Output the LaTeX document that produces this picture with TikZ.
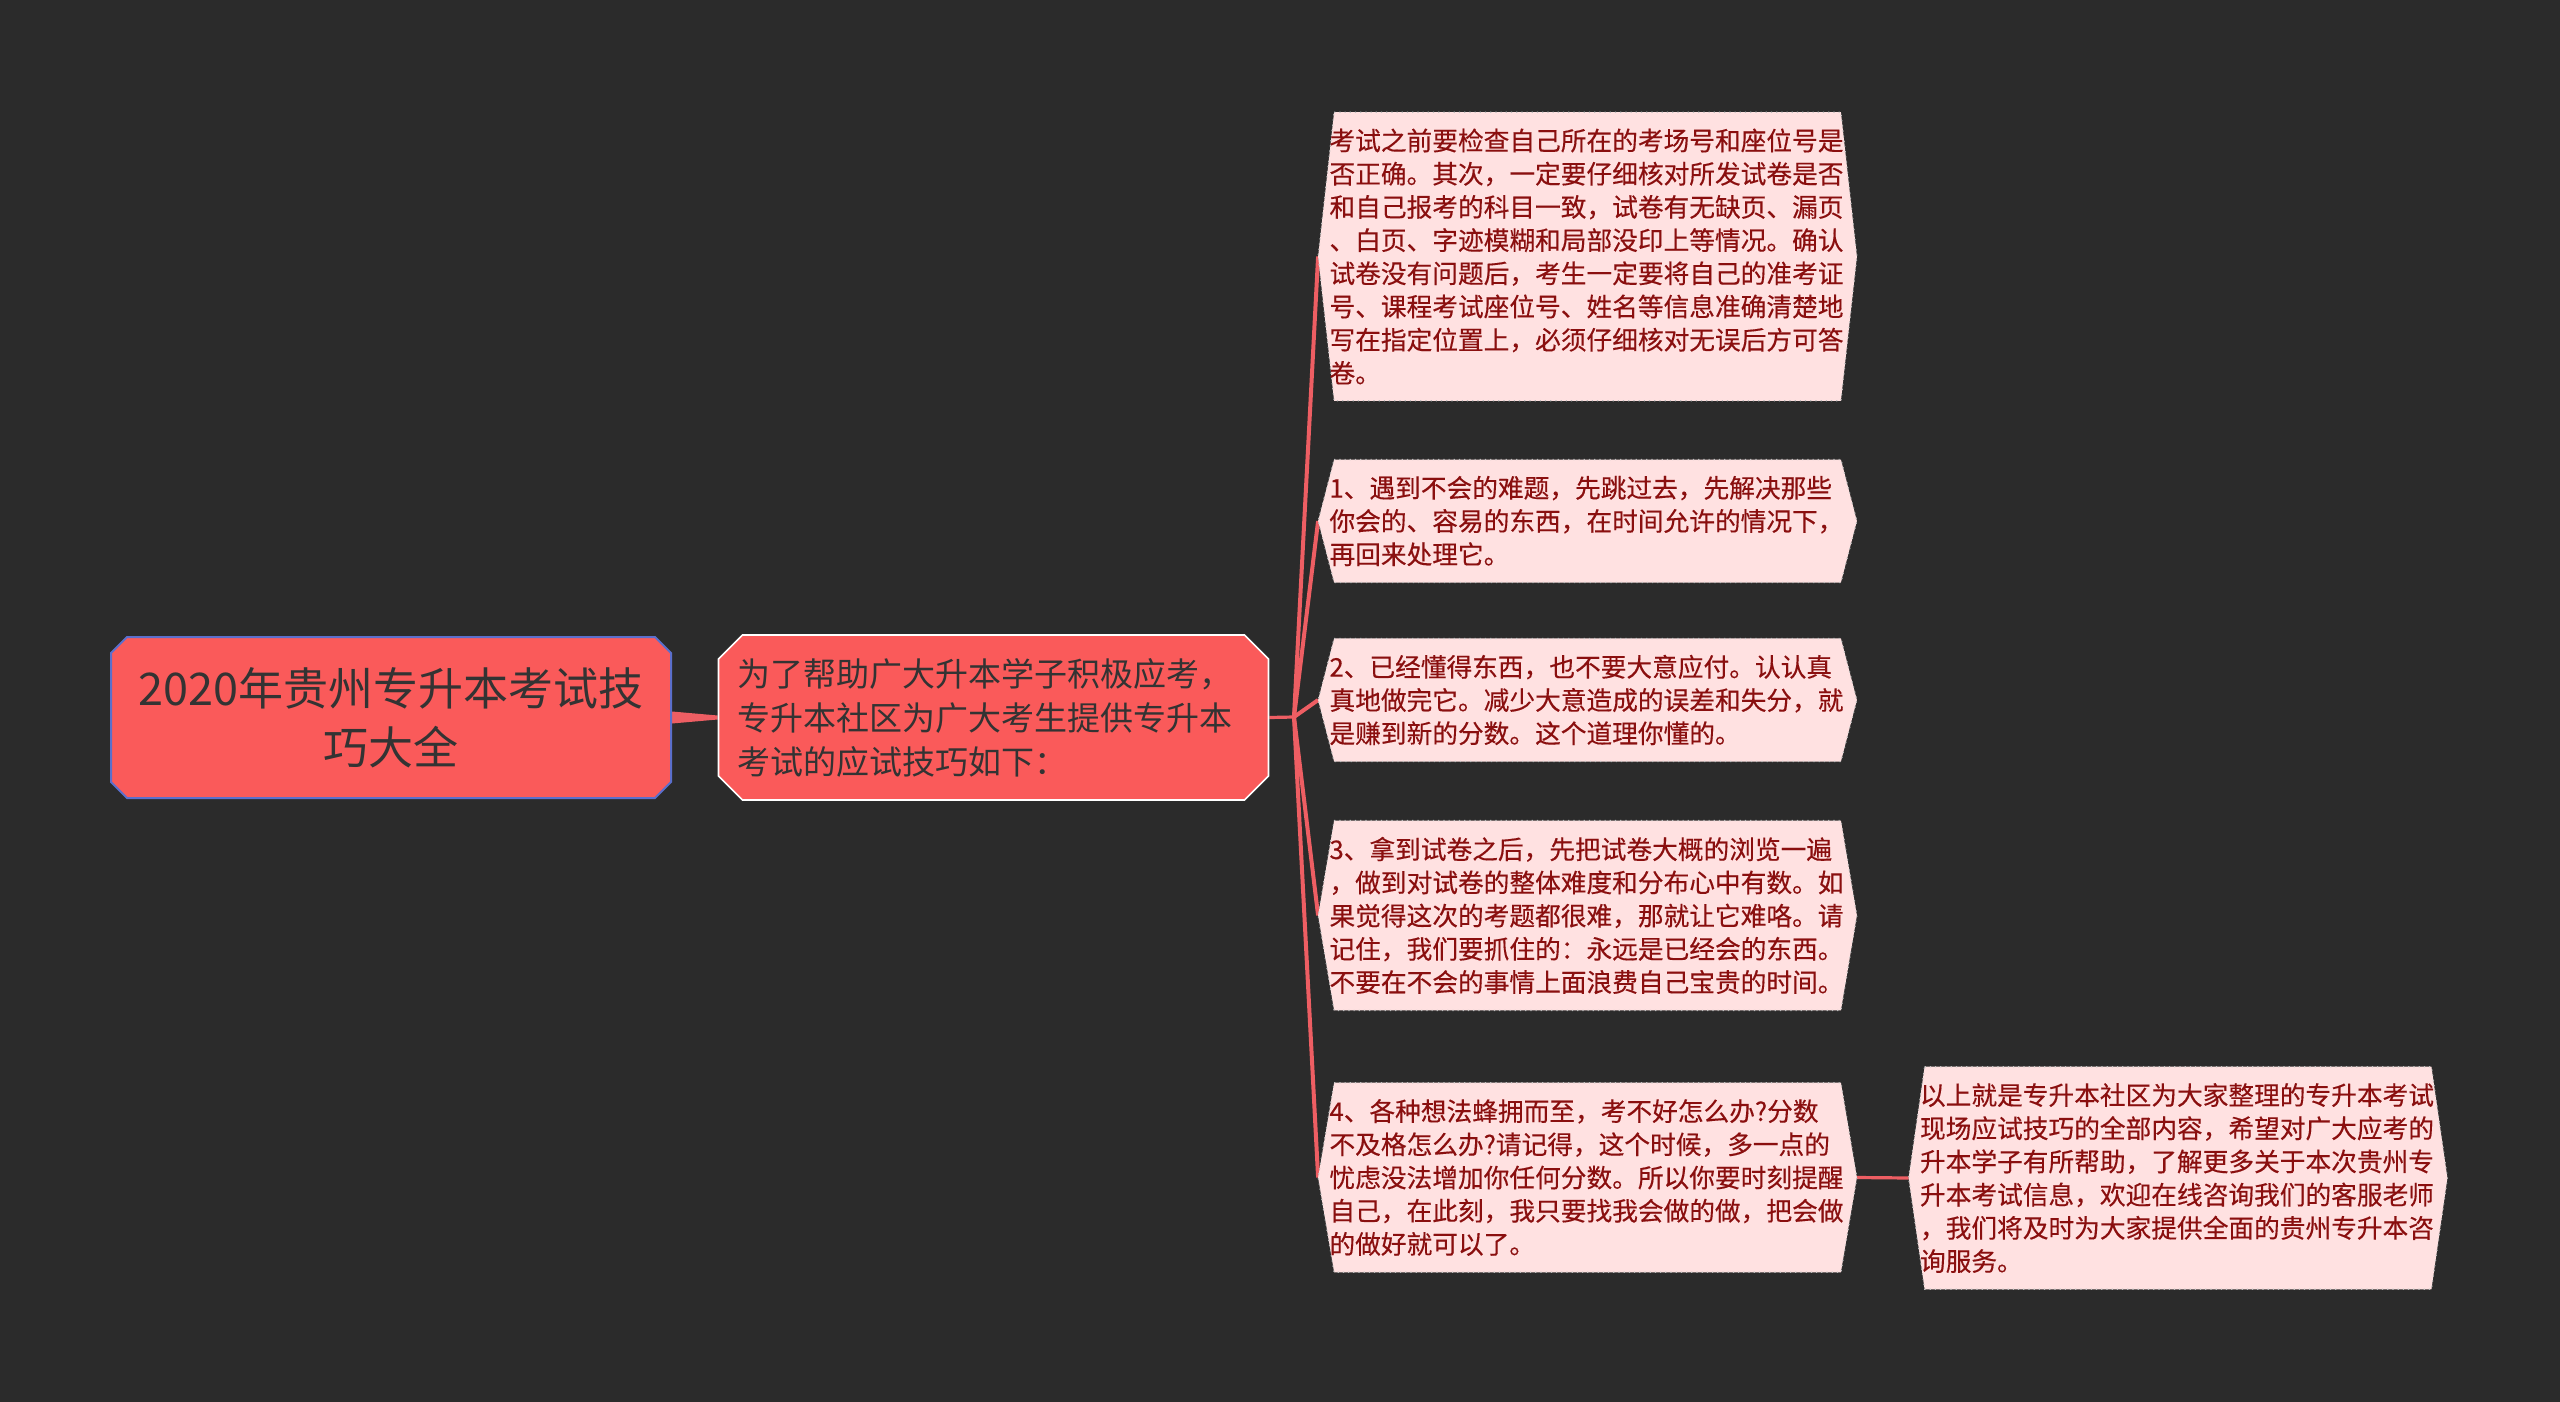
\documentclass[tikz,border=0pt]{standalone}
\usepackage{fontspec}
\newfontfamily\cjk{Noto Sans CJK SC}
\newfontfamily\cjkleaf[FakeBold=0.3]{Noto Sans CJK SC}
\usetikzlibrary{shapes.misc,backgrounds}
\definecolor{bgdark}{HTML}{2B2B2B}
\definecolor{mainred}{HTML}{FA5A5A}
\definecolor{rootline}{HTML}{5B6FCC}
\definecolor{leaffill}{HTML}{FFE1E1}
\definecolor{leaftext}{HTML}{8A0F0F}
\definecolor{linkred}{HTML}{EE5E63}
\definecolor{darktext}{HTML}{333333}
\newcommand\leaffont{\cjkleaf\fontsize{12.85pt}{16.6pt}\selectfont}
\tikzset{
  rootbox/.style={chamfered rectangle, chamfered rectangle xsep=4pt, chamfered rectangle ysep=4pt,
    fill=mainred, draw=rootline, line width=1pt, text=darktext, inner sep=0pt,
    minimum width=280pt, minimum height=80.5pt, align=center,
    font=\cjk\fontsize{22.5pt}{29.5pt}\selectfont},
  subbox/.style={chamfered rectangle, chamfered rectangle xsep=6pt, chamfered rectangle ysep=6pt,
    fill=mainred, draw=white, line width=0.8pt, text=darktext, inner xsep=3.5pt, inner ysep=0pt,
    text width=256pt, minimum height=82.5pt, align=left,
    font=\cjk\fontsize{16.5pt}{22pt}\selectfont},
  leaf/.style={inner xsep=5.5pt, inner ysep=8pt, text width=258pt, align=left,
    text=leaftext, font=\leaffont},
  leafshape/.style={fill=leaffill, draw=white!75!black, dotted, line width=0.6pt},
  link/.style={draw=linkred, line width=2pt},
  stem/.style={draw=linkred, line width=1.6pt}
}
\begin{document}
\begin{tikzpicture}[x=0.5pt,y=-0.5pt]
    \begin{scope}[on background layer]
        \fill[bgdark] (0,0) rectangle (2560,1402);
    \end{scope}

    \node[rootbox] (r) at (391,717.5) {2020年贵州专升本考试技\\巧大全};
    \node[subbox] (c) at (993.5,717.5) {为了帮助广大升本学子积极应考，\\专升本社区为广大考生提供专升本\\考试的应试技巧如下：};
    \coordinate (j) at (1294,717);

    \node[leaf] (t0) at (1587.5,256.5) {考试之前要检查自己所在的考场号和座位号是\\否正确。其次，一定要仔细核对所发试卷是否\\和自己报考的科目一致，试卷有无缺页、漏页\\、白页、字迹模糊和局部没印上等情况。确认\\试卷没有问题后，考生一定要将自己的准考证\\号、课程考试座位号、姓名等信息准确清楚地\\写在指定位置上，必须仔细核对无误后方可答\\卷。};
    \node[leaf] (t1) at (1587.5,521) {1、遇到不会的难题，先跳过去，先解决那些\\你会的、容易的东西，在时间允许的情况下，\\再回来处理它。};
    \node[leaf] (t2) at (1587.5,700) {2、已经懂得东西，也不要大意应付。认认真\\真地做完它。减少大意造成的误差和失分，就\\是赚到新的分数。这个道理你懂的。};
    \node[leaf] (t3) at (1587.5,915.5) {3、拿到试卷之后，先把试卷大概的浏览一遍\\，做到对试卷的整体难度和分布心中有数。如\\果觉得这次的考题都很难，那就让它难咯。请\\记住，我们要抓住的：永远是已经会的东西。\\不要在不会的事情上面浪费自己宝贵的时间。};
    \node[leaf] (t4) at (1587.5,1177.5) {4、各种想法蜂拥而至，考不好怎么办?分数\\不及格怎么办?请记得，这个时候，多一点的\\忧虑没法增加你任何分数。所以你要时刻提醒\\自己，在此刻，我只要找我会做的做，把会做\\的做好就可以了。};
    \node[leaf] (t5) at (2178,1178) {以上就是专升本社区为大家整理的专升本考试\\现场应试技巧的全部内容，希望对广大应考的\\升本学子有所帮助，了解更多关于本次贵州专\\升本考试信息，欢迎在线咨询我们的客服老师\\，我们将及时为大家提供全面的贵州专升本咨\\询服务。};

    \begin{scope}[on background layer]
        \fill[linkred] ([yshift=3pt]r.east) -- ([yshift=1pt]c.west) -- ([yshift=-1pt]c.west) -- ([yshift=-3pt]r.east) -- cycle;
        \draw[stem] (c.east) -- (j);
        \foreach \n in {t0,t1,t2,t3,t4}
            \draw[link] (j) -- (\n.west);
        \draw[stem] (t4.east) -- (t5.west);
        \foreach \n in {t0,t1,t2,t3,t4,t5}
            \draw[leafshape] ([xshift=8pt]\n.north west) -- ([xshift=-8pt]\n.north east) -- (\n.east)
                -- ([xshift=-8pt]\n.south east) -- ([xshift=8pt]\n.south west) -- (\n.west) -- cycle;
    \end{scope}
\end{tikzpicture}
\end{document}
